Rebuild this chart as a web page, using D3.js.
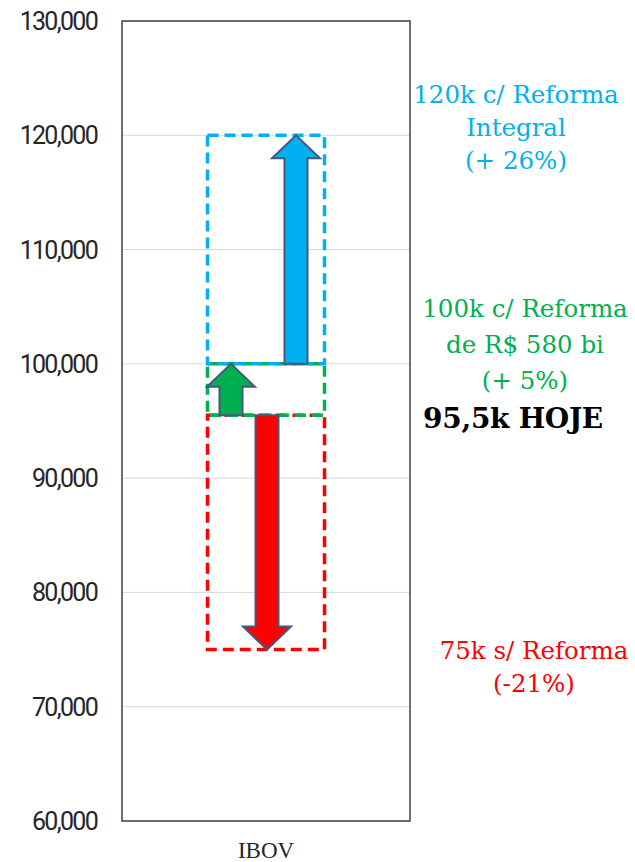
<!DOCTYPE html>
<html>
<head>
<meta charset="utf-8">
<script src="https://cdn.jsdelivr.net/npm/d3@7"></script>
<style>
  body { margin: 0; background: #fff; }
</style>
</head>
<body>
<div id="chart"></div>
<script>
// data
var categories = ["IBOV"];
var yTicks = [60000, 70000, 80000, 90000, 100000, 110000, 120000, 130000];
var scenarioNames = ["integral", "r580", "sem"];
var scenarioFrom = [100000, 95500, 95500];
var scenarioTo = [120000, 100000, 75000];
var scenarioColors = ["#00B0F0", "#00B050", "#FF0000"];
var scenarioLabels = [
  ["120k c/ Reforma", "Integral", "(+ 26%)"],
  ["100k c/ Reforma", "de R$ 580 bi", "(+ 5%)"],
  ["75k s/ Reforma", "(-21%)"]
];
var todayValue = 95500;
var todayLabel = "95,5k HOJE";

var width = 635,
    height = 862,
    margin = {top: 21, right: 225, bottom: 41, left: 122};

var svg = d3.select("#chart").append("svg")
  .attr("width", width)
  .attr("height", height);

var x = d3.scaleBand()
  .domain(categories)
  .range([margin.left, width - margin.right]);

var y = d3.scaleLinear()
  .domain([60000, 130000])
  .range([height - margin.bottom, margin.top]);

// gridlines
svg.append("g")
  .selectAll("line")
  .data(yTicks)
  .enter().append("line")
  .attr("x1", margin.left)
  .attr("x2", width - margin.right)
  .attr("y1", function(d) { return y(d); })
  .attr("y2", function(d) { return y(d); })
  .style("stroke", "#d9d9d9")
  .style("stroke-width", 1);

// y axis labels
var fmt = d3.format(",");
svg.append("g")
  .selectAll("text")
  .data(yTicks)
  .enter().append("text")
  .attr("x", 97)
  .attr("y", function(d) { return y(d); })
  .attr("dy", "0.36em")
  .style("text-anchor", "end")
  .style("font", "25px Roboto")
  .style("letter-spacing", "-1.7px")
  .style("fill", "#262626")
  .text(function(d) { return fmt(d); });

// x axis label
svg.append("text")
  .attr("x", x("IBOV") + x.bandwidth() / 2)
  .attr("y", 858)
  .style("text-anchor", "middle")
  .style("font", "23px 'Liberation Serif'")
  .style("fill", "#262626")
  .text(categories[0]);

// dashed boxes (drawn bottom-up so the upper box sits on top)
var cx = x("IBOV") + x.bandwidth() / 2;
var boxHalf = 58.5;
var order = [2, 1, 0];
svg.append("g")
  .selectAll("rect")
  .data(order)
  .enter().append("rect")
  .attr("x", cx - boxHalf)
  .attr("width", boxHalf * 2)
  .attr("y", function(i) { return y(Math.max(scenarioFrom[i], scenarioTo[i])); })
  .attr("height", function(i) { return Math.abs(y(scenarioFrom[i]) - y(scenarioTo[i])); })
  .style("fill", "none")
  .style("stroke", function(i) { return scenarioColors[i]; })
  .style("stroke-width", 3.5)
  .style("stroke-dasharray", "11,6");

// arrows
var arrowOffset = [30, -35, 1];
var shaftW = 23, headW = 48, headH = 23;
function arrowPath(x0, yStart, yEnd) {
  var dir = yEnd < yStart ? 1 : -1; // 1 = pointing up
  var hb = yEnd + dir * headH;
  return "M" + (x0 - shaftW / 2) + "," + yStart +
    "L" + (x0 - shaftW / 2) + "," + hb +
    "L" + (x0 - headW / 2) + "," + hb +
    "L" + x0 + "," + yEnd +
    "L" + (x0 + headW / 2) + "," + hb +
    "L" + (x0 + shaftW / 2) + "," + hb +
    "L" + (x0 + shaftW / 2) + "," + yStart + "Z";
}
svg.append("g")
  .selectAll("path")
  .data(scenarioNames)
  .enter().append("path")
  .attr("d", function(d, i) {
    return arrowPath(cx + arrowOffset[i], y(scenarioFrom[i]), y(scenarioTo[i]));
  })
  .style("fill", function(d, i) { return scenarioColors[i]; })
  .style("stroke", "#44587c")
  .style("stroke-width", 2)
  .style("stroke-linejoin", "miter");

// plot frame
svg.append("rect")
  .attr("x", margin.left)
  .attr("y", margin.top)
  .attr("width", width - margin.right - margin.left)
  .attr("height", height - margin.bottom - margin.top)
  .style("fill", "none")
  .style("stroke", "#404040")
  .style("stroke-width", 1.5);

// annotations
var labelX = [516, 525, 534];
var labelY = [103, 317, 659];
var lineGap = [33, 36, 33];
scenarioNames.forEach(function(name, i) {
  var t = svg.append("text")
    .attr("x", labelX[i])
    .attr("y", labelY[i])
    .style("text-anchor", "middle")
    .style("font", "24.5px 'DejaVu Serif'")
    .style("fill", scenarioColors[i]);
  scenarioLabels[i].forEach(function(line, j) {
    t.append("tspan")
      .attr("x", labelX[i])
      .attr("y", labelY[i] + j * lineGap[i])
      .text(line);
  });
});

svg.append("text")
  .attr("x", 513)
  .attr("y", y(todayValue) + 13)
  .style("text-anchor", "middle")
  .style("font", "bold 28px 'DejaVu Serif'")
  .style("letter-spacing", "-0.3px")
  .style("fill", "#000")
  .text(todayLabel);
</script>
</body>
</html>
